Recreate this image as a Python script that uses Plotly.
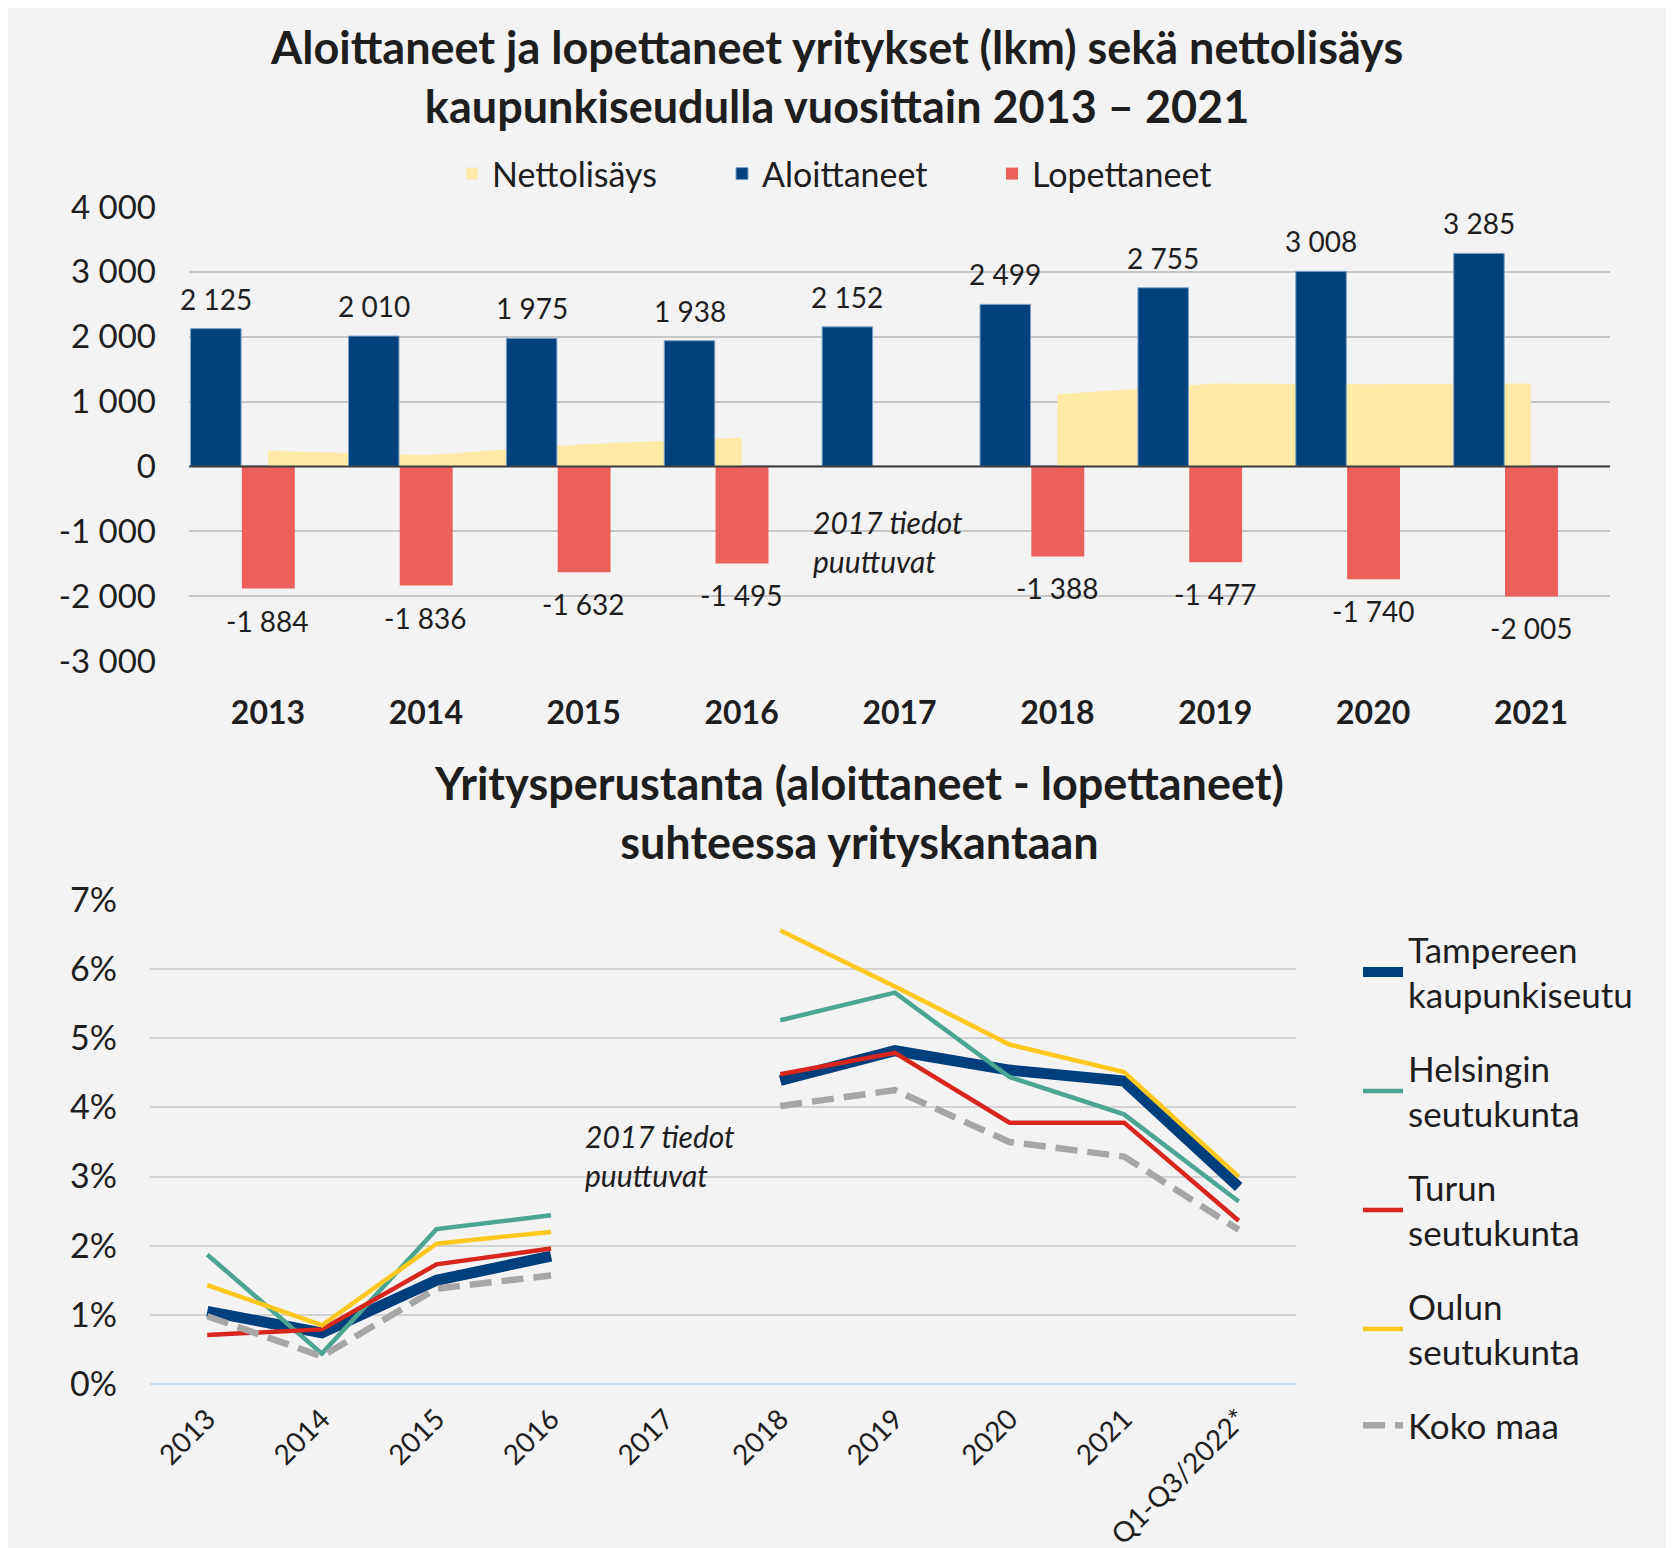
import plotly.graph_objects as go

W, H = 1674, 1548
PAGE = 8  # browser body margin, measurements below are in screenshot pixels

# --- chart 1 data ---
years = ['2013', '2014', '2015', '2016', '2017', '2018', '2019', '2020', '2021']
aloittaneet = [2125, 2010, 1975, 1938, 2152, 2499, 2755, 3008, 3285]
lopettaneet = [-1884, -1836, -1632, -1495, None, -1388, -1477, -1740, -2005]
nettolisays = [241, 174, 343, 443, None, 1111, 1278, 1268, 1280]
y1_ticks = [-3000, -2000, -1000, 0, 1000, 2000, 3000, 4000]

# --- chart 2 data (%) ---
periods = ['2013', '2014', '2015', '2016', '2017', '2018', '2019', '2020', '2021', 'Q1-Q3/2022*']
tampere = [1.05, 0.74, 1.50, 1.85, None, 4.39, 4.82, 4.54, 4.38, 2.85]
helsinki = [1.87, 0.44, 2.24, 2.44, None, 5.26, 5.66, 4.44, 3.90, 2.64]
turku = [0.71, 0.79, 1.73, 1.96, None, 4.48, 4.79, 3.78, 3.78, 2.36]
oulu = [1.43, 0.85, 2.03, 2.20, None, 6.56, 5.75, 4.91, 4.51, 3.00]
koko_maa = [0.98, 0.40, 1.38, 1.57, None, 4.02, 4.25, 3.50, 3.29, 2.23]


def fmt(v):
    return f"{v:,}".replace(",", " ")


def px_x(p):
    return (p - PAGE) / W


def px_y(p):
    return 1 - (p - PAGE) / H


FONT = 'Lato'
TXT = '#1e1e1e'
BLUE = '#00417e'
RED = '#ec605a'
YELLOW = '#ffeaa6'

fig = go.Figure()

# legend entry for nettolisäys (square swatch like the bars)
fig.add_trace(go.Bar(
    x=[None], y=[None], name='Nettolisäys', marker_color=YELLOW,
    xaxis='x3', yaxis='y3', legend='legend'
))

# nettolisäys area (two segments, 2017 missing)
fig.add_trace(go.Scatter(
    x=years[:4], y=nettolisays[:4], mode='lines', fill='tozeroy',
    fillcolor=YELLOW, line=dict(width=0, color=YELLOW),
    name='Nettolisäys', showlegend=False, xaxis='x', yaxis='y'
))
fig.add_trace(go.Scatter(
    x=years[5:], y=nettolisays[5:], mode='lines', fill='tozeroy',
    fillcolor=YELLOW, line=dict(width=0, color=YELLOW),
    name='Nettolisäys', showlegend=False, xaxis='x', yaxis='y'
))

# bars on overlay axes so they sit above the area
fig.add_trace(go.Bar(
    x=years, y=aloittaneet, name='Aloittaneet', marker_color=BLUE,
    marker_line=dict(width=1, color='#7fa3c8'),
    offset=-0.49, width=0.32, xaxis='x3', yaxis='y3', legend='legend'
))
fig.add_trace(go.Bar(
    x=years, y=lopettaneet, name='Lopettaneet', marker_color=RED,
    marker_line=dict(width=0),
    offset=-0.165, width=0.335, xaxis='x3', yaxis='y3', legend='legend'
))

annotations = []
for i, v in enumerate(aloittaneet):
    annotations.append(dict(
        x=i - 0.33, y=v, xref='x3', yref='y3', text=fmt(v), showarrow=False,
        yshift=30, font=dict(size=28, color=TXT, family=FONT)
    ))
for i, v in enumerate(lopettaneet):
    if v is None:
        continue
    annotations.append(dict(
        x=i, y=v, xref='x3', yref='y3', text=fmt(v), showarrow=False,
        yshift=-32, font=dict(size=28, color=TXT, family=FONT)
    ))

# chart 2 lines
series = [
    ('Tampereen<br>kaupunkiseutu', tampere, '#003f7d', 11, 'solid'),
    ('Helsingin<br>seutukunta', helsinki, '#4aa592', 4.5, 'solid'),
    ('Turun<br>seutukunta', turku, '#d8261d', 4.5, 'solid'),
    ('Oulun<br>seutukunta', oulu, '#ffc81e', 4.5, 'solid'),
    ('Koko maa', koko_maa, '#a6a6a6', 6.5, '22px,10px'),
]
for name, vals, col, w, dash in series:
    fig.add_trace(go.Scatter(
        x=periods, y=vals, mode='lines', name=name,
        line=dict(color=col, width=w, dash=dash),
        connectgaps=False, xaxis='x2', yaxis='y2', legend='legend2',
        legendgroup=name
    ))

# titles and notes
annotations += [
    dict(text='<b>Aloittaneet ja lopettaneet yritykset (lkm) sekä nettolisäys<br>'
              'kaupunkiseudulla vuosittain 2013 – 2021</b>',
         x=px_x(836), y=px_y(76), xref='paper', yref='paper', showarrow=False,
         font=dict(size=45, color=TXT, family=FONT), xanchor='center', yanchor='middle'),
    dict(text='<b>Yritysperustanta (aloittaneet - lopettaneet)<br>suhteessa yrityskantaan</b>',
         x=px_x(859), y=px_y(812), xref='paper', yref='paper', showarrow=False,
         font=dict(size=45, color=TXT, family=FONT), xanchor='center', yanchor='middle'),
    dict(text='<i>2017 tiedot<br>puuttuvat</i>', x=4, y=-1150, xref='x3', yref='y3',
         showarrow=False, align='left', xshift=-12,
         font=dict(size=30, color=TXT, family=FONT)),
    dict(text='<i>2017 tiedot<br>puuttuvat</i>', x=4, y=3.3, xref='x2', yref='y2',
         showarrow=False, align='left', xshift=-6,
         font=dict(size=30, color=TXT, family=FONT)),
]

d1x = [px_x(189), px_x(1610)]
d1y = [px_y(661), px_y(207)]
d2x = [px_x(150), px_x(1296)]
d2y = [px_y(1384), px_y(900)]

fig.update_layout(
    width=W, height=H,
    margin=dict(l=0, r=0, t=0, b=0),
    paper_bgcolor='#f3f3f3',
    plot_bgcolor='rgba(0,0,0,0)',
    font=dict(family=FONT, color=TXT),
    showlegend=True,
    barmode='overlay',
    annotations=annotations,
    shapes=[
        dict(type='line', xref='x domain', yref='y', x0=0, x1=1, y0=0, y1=0,
             line=dict(color='#3c3c3c', width=2), layer='above'),
    ],
    xaxis=dict(domain=d1x, anchor='y', type='category', categoryarray=years,
               range=[-0.5, 8.5], showgrid=False, showline=False, zeroline=False,
               tickfont=dict(size=32, weight='bold', color=TXT), ticks='',
               ticklabelstandoff=30, automargin=False),
    yaxis=dict(domain=d1y, anchor='x', range=[-3000, 4000], tickvals=y1_ticks,
               ticktext=[fmt(v) for v in y1_ticks], showgrid=True,
               gridcolor='#c6c6c6', gridwidth=2, zeroline=False, showline=False,
               tickfont=dict(size=33, color=TXT), ticks='', ticklabelstandoff=32,
               automargin=False),
    xaxis3=dict(overlaying='x', anchor='y3', type='category', categoryarray=years,
                range=[-0.5, 8.5], visible=False),
    yaxis3=dict(overlaying='y', anchor='x3', range=[-3000, 4000], visible=False),
    xaxis2=dict(domain=d2x, anchor='y2', type='category', categoryarray=periods,
                range=[-0.5, 9.5], showgrid=False, showline=False, zeroline=False,
                tickangle=-45, tickfont=dict(size=28, color=TXT), ticks='',
                ticklabelstandoff=12, automargin=False),
    yaxis2=dict(domain=d2y, anchor='x2', range=[0, 7], dtick=1, ticksuffix='%',
                showgrid=True, gridcolor='#d2d2d2', gridwidth=2,
                zeroline=True, zerolinecolor='#c6ddf1', zerolinewidth=2,
                showline=False, tickfont=dict(size=34, color=TXT), ticks='',
                ticklabelstandoff=32, automargin=False),
    legend=dict(orientation='h', x=px_x(857), xanchor='center', y=px_y(174),
                yanchor='middle', font=dict(size=34, color=TXT),
                bgcolor='rgba(0,0,0,0)', entrywidth=225),
    legend2=dict(orientation='v', x=px_x(1358), xanchor='left', y=px_y(920),
                 yanchor='top', font=dict(size=35, color=TXT),
                 bgcolor='rgba(0,0,0,0)', tracegroupgap=25, itemwidth=40),
)

fig.write_html("out.html")
